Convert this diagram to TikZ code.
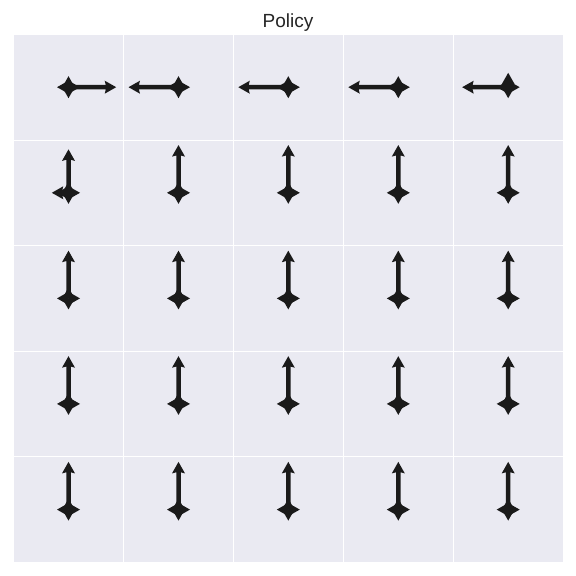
\documentclass[tikz,border=0pt]{standalone}
\usepackage{fontspec}
\setmainfont{Liberation Sans}
\definecolor{axbg}{HTML}{EAEAF2}
\definecolor{arrowc}{HTML}{1A1A1A}
\definecolor{titlec}{HTML}{262626}
\tikzset{
  axesbg/.style={fill=axbg, draw=none},
  gridline/.style={draw=white, line width=1pt},
  arrowfill/.style={fill=arrowc, draw=none},
  titletext/.style={text=titlec, font=\fontsize{19}{22}\selectfont, inner sep=0pt, anchor=base}
}
% quiver-like arrow: x, y (pixel coords, y down), angle, length
\newcommand{\qarrow}[4]{%
  \begin{scope}[shift={(#1,576-#2)},rotate=#3]
    \fill[arrowfill] (0,2.25) -- ({#4-10.4},2.25) -- ({#4-11.5},6.5) -- (#4,0)
      -- ({#4-11.5},-6.5) -- ({#4-10.4},-2.25) -- (0,-2.25) -- cycle;
  \end{scope}}
% star of four short arrows
\newcommand{\qstar}[2]{%
  \qarrow{#1}{#2}{0}{11.5}\qarrow{#1}{#2}{180}{11.5}%
  \qarrow{#1}{#2}{90}{11}\qarrow{#1}{#2}{270}{11}}
\begin{document}
\begin{tikzpicture}[x=1pt,y=1pt]
\useasboundingbox (0,0) rectangle (576,576);
\fill[white] (0,0) rectangle (576,576);
% axes
\fill[axesbg] (14,576-35) rectangle (563,576-562);
\foreach \gx in {123.8,233.6,343.4,453.2} {
  \draw[gridline] (\gx,576-35) -- (\gx,576-562);
}
\foreach \gy in {140.4,245.8,351.2,456.6} {
  \draw[gridline] (14,576-\gy) -- (563,576-\gy);
}
% title
\node[titletext] (title) at (288,576-28) {Policy};
% row 0
\qstar{68.5}{87.2}\qarrow{68.5}{87.2}{0}{47.7}
\qstar{178.5}{87.2}\qarrow{178.5}{87.2}{180}{50}
\qstar{288.3}{87.2}\qarrow{288.3}{87.2}{180}{50}
\qstar{398.3}{87.2}\qarrow{398.3}{87.2}{180}{50}
\qstar{508.2}{87.2}\qarrow{508.2}{87.2}{180}{46}\qarrow{508.2}{87.2}{90}{14.4}
% row 1
\qstar{68.5}{192.8}\qarrow{68.5}{192.8}{90}{43.4}\qarrow{68.5}{192.8}{180}{16.7}
\foreach \cx in {178.5,288.3,398.3,508.2} {
  \qstar{\cx}{192.8}\qarrow{\cx}{192.8}{90}{47.7}
}
% rows 2-4
\foreach \cy in {298.4,403.9,509.6} {
  \foreach \cx in {68.5,178.5,288.3,398.3,508.2} {
    \qstar{\cx}{\cy}\qarrow{\cx}{\cy}{90}{47.7}
  }
}
\end{tikzpicture}
\end{document}
